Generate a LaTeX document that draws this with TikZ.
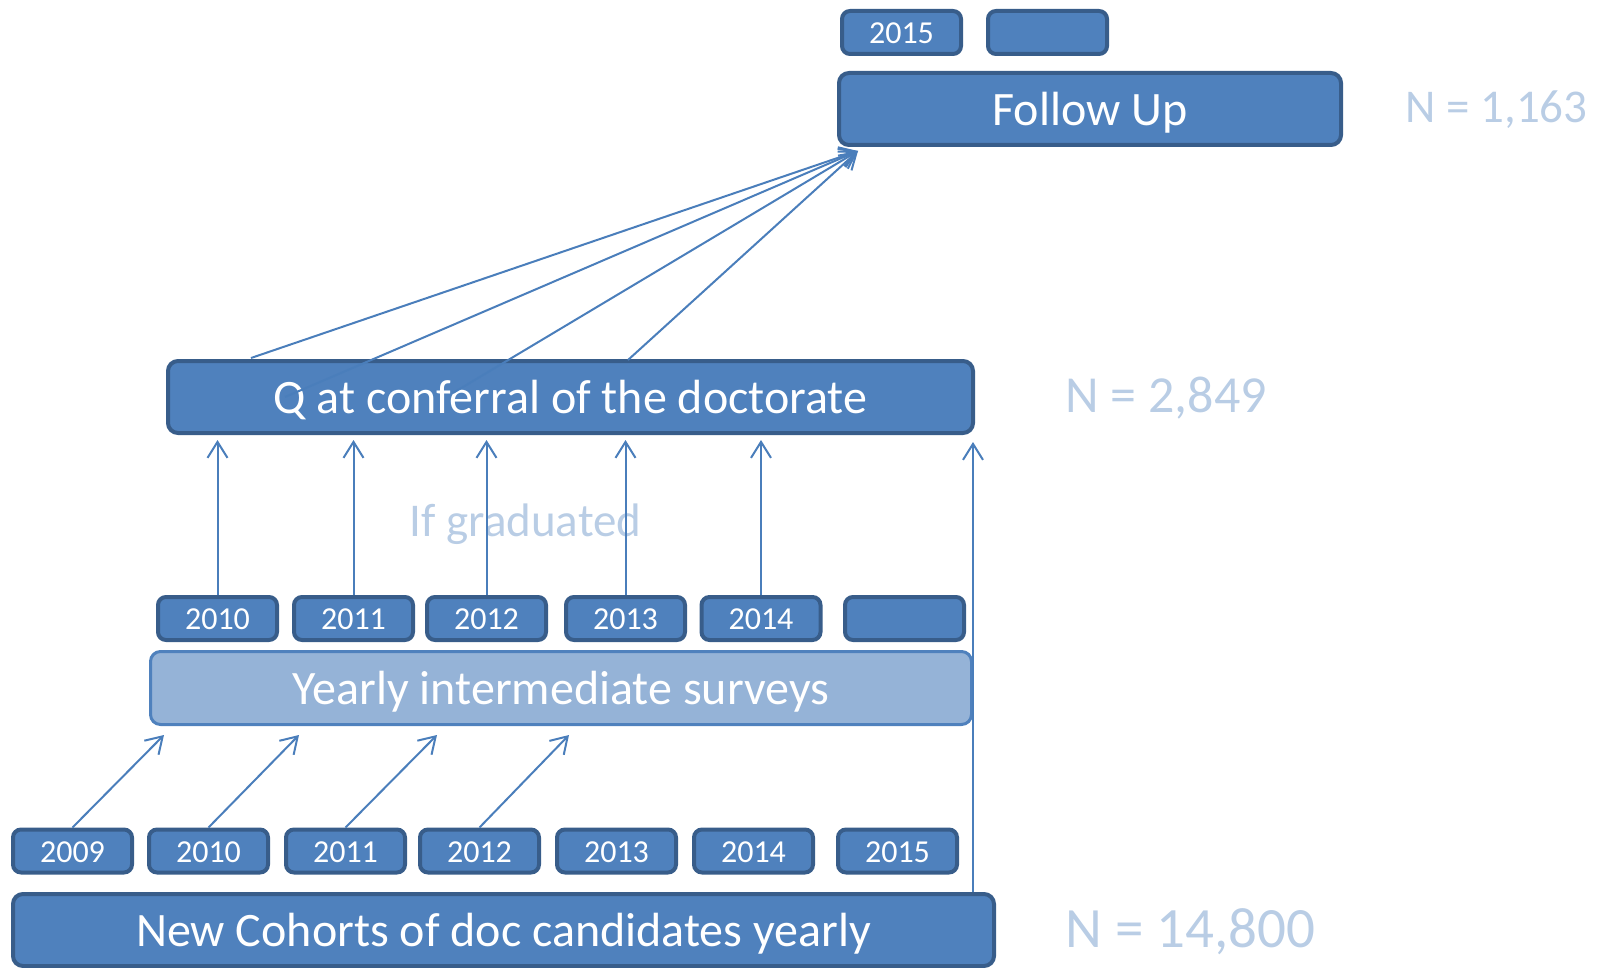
\documentclass[tikz,border=0pt]{standalone}
\usepackage{fontspec}
\setmainfont{Carlito}
\usetikzlibrary{arrows.meta}
\definecolor{boxblue}{HTML}{4F81BD}
\definecolor{boxedge}{HTML}{385D8A}
\definecolor{paleblue}{HTML}{95B3D7}
\definecolor{linkblue}{HTML}{4A7EBB}
\definecolor{countblue}{HTML}{B9CDE5}
\begin{document}
\begin{tikzpicture}[
    x=0.5pt, y=-0.5pt,
    every node/.style={inner sep=0pt, text=white},
    bigbox/.style={draw=boxedge, fill=boxblue, line width=2pt, rounded corners=5pt,
        minimum height=36pt, text height=16.8pt, text depth=0pt, font=\fontsize{24}{29}\selectfont},
    yearbox/.style={draw=boxedge, fill=boxblue, line width=2pt, rounded corners=4pt,
        minimum width=59.5pt, minimum height=21.5pt, text height=11.4pt, text depth=0pt,
        font=\fontsize{16}{19}\selectfont},
    count/.style={anchor=west, text=countblue},
    link/.style={draw=linkblue, line width=1pt, -{Straight Barb[length=8pt,width=10pt]}}
]
\useasboundingbox (0,0) rectangle (1606,968);
\node[yearbox] (f1) at (901.5,32.5) {2015};
\node[yearbox] (f2) at (1047.5,32.5) {};
\node[bigbox, minimum width=251pt] (follow) at (1090,109) {Follow Up};
\node[count, font=\fontsize{23.5}{28}\selectfont] (n3) at (1405,110) {N = 1,163};
\node[bigbox, minimum width=402.5pt] (q) at (570.5,397) {Q at conferral of the doctorate};
\node[count, font=\fontsize{26}{31}\selectfont] (n2) at (1065,398) {N = 2,849};
\node[text=countblue, font=\fontsize{23.5}{28}\selectfont] (grad) at (525.5,524) {If graduated};
\foreach \x/\yr [count=\i] in {217.5/2010, 353.5/2011, 486.5/2012, 625.5/2013, 761/2014, 904.5/{}}
    \node[yearbox] (m\i) at (\x,618.5) {\yr};
\node[bigbox, line width=1.5pt, draw=boxblue, fill=paleblue, minimum width=410.5pt,
    minimum height=36.5pt] (yearly) at (561,688) {Yearly intermediate surveys};
\foreach \x/\yr [count=\i] in {72.5/2009, 208.5/2010, 345.5/2011, 479.5/2012, 616.5/2013, 753.5/2014, 897.5/2015}
    \node[yearbox] (b\i) at (\x,851) {\yr};
\node[bigbox, minimum width=490.5pt] (cohorts) at (503.5,930) {New Cohorts of doc candidates yearly};
\node[count, font=\fontsize{28.5}{34}\selectfont] (n1) at (1065,932) {N = 14,800};
\foreach \x [count=\i] in {164,299,437,569} {
    \coordinate (s\i) at (\x,735);
    \draw[link] (b\i.north) -- (s\i);
}
\coordinate (qtip) at (0,440);
\foreach \i in {1,...,5}
    \draw[link] (m\i.north) -- (m\i.north |- qtip);
\coordinate (ctip) at (973,442);
\draw[link] (ctip |- cohorts.north) -- (ctip);
\coordinate (ftip) at (858,151);
\foreach \x/\y [count=\i] in {251/358, 285/397, 453/393, 628/360} {
    \coordinate (g\i) at (\x,\y);
    \draw[link] (g\i) -- (ftip);
}
\end{tikzpicture}
\end{document}
